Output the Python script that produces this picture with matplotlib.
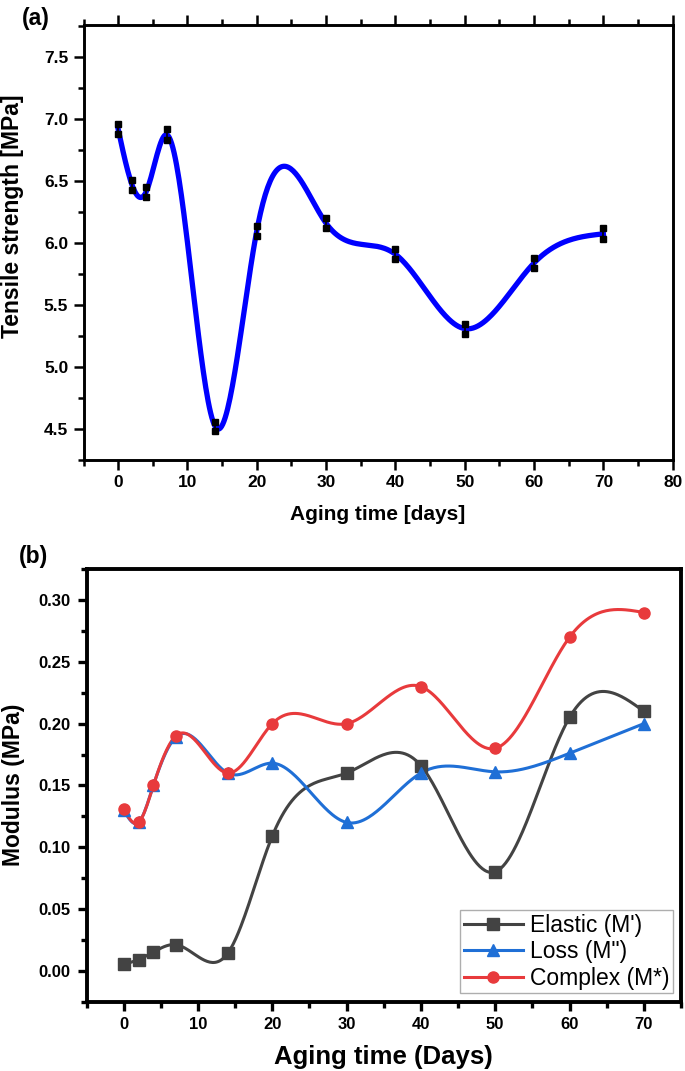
"""
Tensile strength and modulus vs. aging time, two stacked panels.
"""

import numpy as np
import matplotlib

matplotlib.use("Agg")
import matplotlib.pyplot as plt
from matplotlib.ticker import MultipleLocator

# ---- panel (a) data ----
days_a = [0, 2, 4, 7, 14, 20, 30, 40, 50, 60, 70]
tensile = [6.92, 6.47, 6.41, 6.875, 4.52, 6.10, 6.16, 5.91, 5.31, 5.84, 6.075]
tensile_err = [0.04, 0.04, 0.04, 0.045, 0.04, 0.04, 0.04, 0.04, 0.04, 0.04, 0.045]

# ---- panel (b) data ----
days_b = [0, 2, 4, 7, 14, 20, 30, 40, 50, 60, 70]
elastic = [0.005, 0.009, 0.015, 0.021, 0.014, 0.109, 0.160, 0.166, 0.080, 0.205, 0.210]
loss = [0.130, 0.120, 0.150, 0.189, 0.160, 0.168, 0.120, 0.160, 0.161, 0.176, 0.200]
complex_m = [0.131, 0.120, 0.150, 0.190, 0.160, 0.200, 0.200, 0.230, 0.180, 0.270, 0.290]

plt.rcParams["font.family"] = ["Liberation Sans", "DejaVu Sans"]

W, H = 685, 1071


def natural_spline(x, y, n=400):
    """Natural cubic spline through (x, y), evaluated on a fine grid."""
    x = np.asarray(x, float)
    y = np.asarray(y, float)
    k = len(x)
    h = np.diff(x)
    A = np.zeros((k, k))
    r = np.zeros(k)
    A[0, 0] = A[-1, -1] = 1.0
    for i in range(1, k - 1):
        A[i, i - 1] = h[i - 1]
        A[i, i] = 2 * (h[i - 1] + h[i])
        A[i, i + 1] = h[i]
        r[i] = 3 * ((y[i + 1] - y[i]) / h[i] - (y[i] - y[i - 1]) / h[i - 1])
    c = np.linalg.solve(A, r)
    b = (y[1:] - y[:-1]) / h - h * (2 * c[:-1] + c[1:]) / 3
    d = (c[1:] - c[:-1]) / (3 * h)
    xs = np.linspace(x[0], x[-1], n)
    idx = np.clip(np.searchsorted(x, xs) - 1, 0, k - 2)
    dx = xs - x[idx]
    ys = y[idx] + b[idx] * dx + c[idx] * dx ** 2 + d[idx] * dx ** 3
    return xs, ys


def px_axes(left, top, right, bottom):
    """Axes rectangle from pixel edges (origin top-left)."""
    return [left / W, 1 - bottom / H, (right - left) / W, (bottom - top) / H]


def ftext(x, y, s, **kw):
    fig.text(x / W, 1 - y / H, s, ha="center", va="center",
             fontweight="bold", **kw)


fig = plt.figure(figsize=(W / 100, H / 100), dpi=100)

# ---------------- (a) ----------------
ax = fig.add_axes(px_axes(83.5, 25, 672.7, 460))
xs, ys = natural_spline(days_a, tensile)
ax.plot(xs, ys, color="#0000ff", lw=3.8, zorder=2)
ta = np.array(tensile)
ea = np.array(tensile_err)
ax.vlines(days_a, ta - ea, ta + ea, color="black", lw=1.2, zorder=3)
ax.plot(days_a, ta + ea, "s", color="black", ms=5, zorder=4)
ax.plot(days_a, ta - ea, "s", color="black", ms=5, zorder=4)

ax.set_xlim(-5, 80)
ax.set_ylim(4.25, 7.76)
ax.xaxis.set_major_locator(MultipleLocator(10))
ax.xaxis.set_minor_locator(MultipleLocator(5))
ax.set_yticks(np.arange(4.5, 7.51, 0.5))
ax.yaxis.set_minor_locator(MultipleLocator(0.25))
ax.tick_params(which="both", direction="out", top=True, right=False,
               width=1.8, labelsize=12.5, pad=4)
ax.tick_params(which="major", length=7)
ax.tick_params(which="minor", length=4)
for s in ax.spines.values():
    s.set_linewidth(2.1)
for lab in ax.get_xticklabels() + ax.get_yticklabels():
    lab.set_fontweight("bold")
ftext(378, 514, "Aging time [days]", fontsize=15)
ftext(13, 216, "Tensile strength [MPa]", fontsize=16.5, rotation=90)
ftext(36, 18, "(a)", fontsize=16.5)

# ---------------- (b) ----------------
bx = fig.add_axes(px_axes(86.5, 569.3, 681, 1001.5))
series = [
    (elastic, "#434343", "s", "Elastic (M')"),
    (loss, "#1f6fd6", "^", 'Loss (M")'),
    (complex_m, "#e83a3c", "o", "Complex (M*)"),
]
for vals, col, mk, lab in series:
    xs, ys = natural_spline(days_b, vals)
    bx.plot(xs, ys, color=col, lw=2.2, zorder=2)
    bx.plot(days_b, vals, mk, color=col, ms=8, zorder=3)
    bx.plot([], [], color=col, lw=2.2, marker=mk, ms=8, label=lab)

bx.set_xlim(-5, 75)
bx.set_ylim(-0.025, 0.325)
bx.xaxis.set_major_locator(MultipleLocator(10))
bx.xaxis.set_minor_locator(MultipleLocator(5))
yt = np.arange(0, 0.301, 0.05)
bx.set_yticks(yt)
bx.set_yticklabels([f"{v:.2f}" for v in yt])
bx.yaxis.set_minor_locator(MultipleLocator(0.025))
bx.tick_params(which="both", direction="out", top=False, right=False,
               width=2.4, labelsize=12, pad=5)
bx.tick_params(which="major", length=6.5)
bx.tick_params(which="minor", length=4)
for s in bx.spines.values():
    s.set_linewidth(2.8)
for lab in bx.get_xticklabels() + bx.get_yticklabels():
    lab.set_fontweight("bold")
leg = bx.legend(loc="lower right", bbox_to_anchor=(0.9866, 0.0197),
                borderaxespad=0, fontsize=16.5, frameon=True, fancybox=False,
                edgecolor="#9a9a9a", handlelength=2.6, handletextpad=0.3,
                borderpad=0.15, labelspacing=0.15)
leg.get_frame().set_linewidth(1.0)
ftext(383.8, 1057, "Aging time (Days)", fontsize=18.5)
ftext(14, 785, "Modulus (MPa)", fontsize=16.5, rotation=90)
ftext(34, 556, "(b)", fontsize=16.5)

fig.savefig("out.png", dpi=100)
